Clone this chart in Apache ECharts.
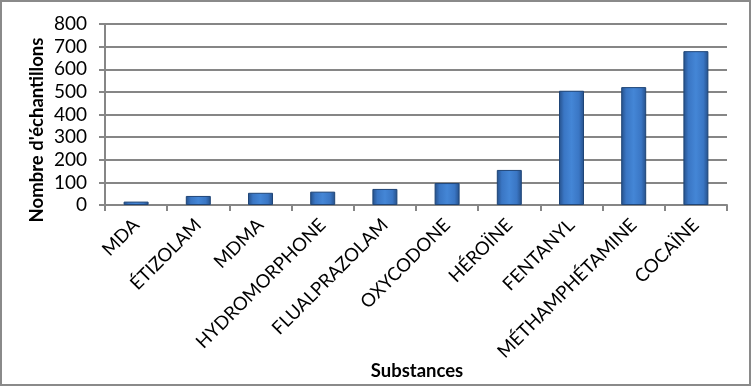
<!DOCTYPE html>
<html><head><meta charset="utf-8">
<script src="https://cdn.jsdelivr.net/npm/echarts@6/dist/echarts.min.js"></script>
<style>
html,body{margin:0;padding:0;background:#fff;}
#c{width:751px;height:386px;box-sizing:border-box;border:2px solid #8a8a8a;}
</style></head><body>
<div id="c"></div>
<script>
const categories = ["MDA","ÉTIZOLAM","MDMA","HYDROMORPHONE","FLUALPRAZOLAM","OXYCODONE","HÉROÏNE","FENTANYL","MÉTHAMPHÉTAMINE","COCAÏNE"];
const values = [15, 40, 54, 59, 71, 97, 155, 505, 521, 680];
const yTicks = [0,100,200,300,400,500,600,700,800];
const yTitle = "Nombre d'échantillons";
const xTitle = "Substances";

const chart = echarts.init(document.getElementById('c'), null, {renderer:'canvas'});
const font = "Lato, 'Open Sans', sans-serif";
chart.setOption({
  animation:false,
  grid:{left:103,right:22,top:22,bottom:179},
  xAxis:{
    type:'category', data:categories,
    axisLine:{lineStyle:{color:'#868686',width:2}},
    axisTick:{show:true,length:6,lineStyle:{color:'#868686',width:2}},
    axisLabel:{rotate:45,fontSize:18.5,color:'#000',fontFamily:font,margin:17,interval:0}
  },
  yAxis:{
    type:'value', min:yTicks[0], max:yTicks[yTicks.length-1], interval:yTicks[1]-yTicks[0],
    axisLine:{show:true,lineStyle:{color:'#868686',width:2}},
    axisTick:{show:true,length:6,lineStyle:{color:'#868686',width:2}},
    splitLine:{lineStyle:{color:'#868686',width:2}},
    axisLabel:{fontSize:19,color:'#000',fontFamily:font,margin:18}
  },
  graphic:[
    {type:'text', x:35, y:128, rotation:Math.PI/2,
     style:{text:yTitle, font:"bold 18.5px "+font, fill:'#000', align:'center', verticalAlign:'middle'}},
    {type:'text', x:415, y:369,
     style:{text:xTitle, font:"bold 18.5px "+font, fill:'#000', align:'center', verticalAlign:'middle'}}
  ],
  series:[{
    type:'bar', data:values, barWidth:25,
    itemStyle:{
      color:new echarts.graphic.LinearGradient(0,0,1,0,[
        {offset:0,color:'#254f88'},
        {offset:0.2,color:'#3a76c4'},
        {offset:0.5,color:'#4486d6'},
        {offset:0.8,color:'#3a76c4'},
        {offset:1,color:'#254f88'}
      ]),
      borderColor:'#1f4577', borderWidth:1
    }
  }]
});
</script>
</body></html>
